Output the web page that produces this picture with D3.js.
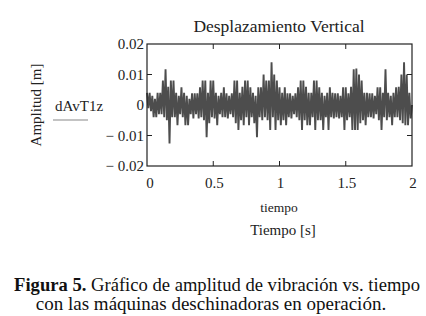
<!DOCTYPE html>
<html lang="es">
<head>
<meta charset="UTF-8" />
<title>Desplazamiento Vertical</title>
<script src="https://d3js.org/d3.v7.min.js"></script>
<style>
  body { margin: 0; background: #fff; }
  svg { display: block; }
  svg text { font-family: "Liberation Serif", "Times New Roman", Times, serif; }
  .tick-label { font-size: 15px; fill: #222; }
</style>
</head>
<body>
<div id="chart"></div>
<script>
// signal, one value every 0.01 s (0 .. 2 s)
const dt = 0.01;
const amplitude = [
  0.004, -0.001, 0.004, -0.002, 0.003, -0.004, 0.002, -0.004, 0.004, -0.003,
  0.004, -0.003, 0.008, -0.004, 0.0117, -0.005, 0.006, -0.0126, 0.008, -0.004,
  0.008, -0.004, 0.004, -0.0066, 0.003, -0.003, 0.0058, -0.004, 0.004, -0.0066,
  0.003, -0.0066, 0.002, -0.003, 0.0038, -0.0044, 0.0038, -0.003, 0.0038, -0.0044,
  0.0058, -0.004, 0.008, -0.005, 0.008, -0.0106, 0.004, -0.006, 0.008, -0.004,
  0.008, -0.0044, 0.004, -0.0066, 0.003, -0.003, 0.004, -0.004, 0.0058, -0.004,
  0.0038, -0.0044, 0.003, -0.003, 0.0038, -0.004, 0.008, -0.006, 0.008, -0.0082,
  0.004, -0.005, 0.006, -0.0066, 0.008, -0.004, 0.008, -0.0066, 0.0058, -0.004,
  0.004, -0.006, 0.003, -0.0106, 0.0058, -0.004, 0.0058, -0.005, 0.01, -0.004,
  0.008, -0.005, 0.008, -0.0082, 0.014, -0.004, 0.01, -0.0082, 0.008, -0.005,
  0.0058, -0.0066, 0.004, -0.005, 0.0058, -0.0066, 0.0038, -0.004, 0.0038, -0.0044,
  0.003, -0.003, 0.0038, -0.004, 0.0058, -0.005, 0.008, -0.0082, 0.008, -0.005,
  0.006, -0.0066, 0.004, -0.0066, 0.004, -0.004, 0.008, -0.0082, 0.008, -0.005,
  0.0058, -0.005, 0.004, -0.0082, 0.003, -0.004, 0.004, -0.0082, 0.0058, -0.004,
  0.004, -0.0044, 0.0038, -0.004, 0.0038, -0.0044, 0.003, -0.004, 0.0058, -0.0082,
  0.0058, -0.005, 0.0038, -0.004, 0.006, -0.0082, 0.0117, -0.0082, 0.012, -0.0082,
  0.01, -0.006, 0.008, -0.005, 0.004, -0.0066, 0.004, -0.004, 0.0038, -0.004,
  0.0038, -0.0044, 0.003, -0.003, 0.0058, -0.005, 0.0058, -0.0082, 0.004, -0.004,
  0.0117, -0.005, 0.004, -0.004, 0.003, -0.0066, 0.004, -0.004, 0.0058, -0.004,
  0.006, -0.005, 0.01, -0.006, 0.014, -0.0066, 0.01, -0.0066, 0.004, -0.0044,
  0
];
const xTicks = [0, 0.5, 1, 1.5, 2];
const yTicks = [0.02, 0.01, 0, -0.01, -0.02];
const seriesName = "dAvT1z";

const W = 426, H = 316;
const plot = { left: 147, right: 412, top: 44, bottom: 166 };

const svg = d3.select("#chart").append("svg")
  .attr("width", W).attr("height", H);

const x = d3.scaleLinear().domain([0, 2]).range([plot.left, plot.right]);
const y = d3.scaleLinear().domain([-0.02, 0.02]).range([plot.bottom, plot.top]);

const fmtY = d => d === 0 ? "0" : (d < 0 ? "\u2212 " + d3.format(".2f")(-d) : d3.format(".2f")(d));

// signal
const line = d3.line()
  .x((d, i) => x(i * dt))
  .y(d => y(d));

svg.append("path")
  .datum(amplitude)
  .attr("fill", "none")
  .attr("stroke", "#4d4d4d")
  .attr("stroke-width", 1.9)
  .attr("d", line);

// frame
svg.append("rect")
  .attr("x", plot.left).attr("y", plot.top)
  .attr("width", plot.right - plot.left)
  .attr("height", plot.bottom - plot.top)
  .attr("fill", "none").attr("stroke", "#222").attr("stroke-width", 1.2);

// inward ticks on all sides
const tl = 5;
const innerX = xTicks.slice(1, -1), innerY = yTicks.slice(1, -1).filter(d => d !== 0);
svg.append("g").selectAll("line.xb").data(innerX).join("line")
  .attr("x1", d => x(d)).attr("x2", d => x(d))
  .attr("y1", plot.bottom).attr("y2", plot.bottom - tl)
  .attr("stroke", "#222");
svg.append("g").selectAll("line.xt").data(innerX).join("line")
  .attr("x1", d => x(d)).attr("x2", d => x(d))
  .attr("y1", plot.top).attr("y2", plot.top + tl)
  .attr("stroke", "#222");
svg.append("g").selectAll("line.yl").data(innerY).join("line")
  .attr("x1", plot.left).attr("x2", plot.left + tl)
  .attr("y1", d => y(d)).attr("y2", d => y(d))
  .attr("stroke", "#222");
svg.append("g").selectAll("line.yr").data(innerY).join("line")
  .attr("x1", plot.right).attr("x2", plot.right - tl)
  .attr("y1", d => y(d)).attr("y2", d => y(d))
  .attr("stroke", "#222");

// tick labels
svg.append("g").selectAll("text").data(xTicks).join("text")
  .attr("class", "tick-label")
  .attr("x", d => x(d) + (d === 0 ? 3 : 1))
  .attr("y", 188)
  .attr("text-anchor", "middle")
  .text(d => d);

svg.append("g").selectAll("text").data(yTicks).join("text")
  .attr("class", "tick-label")
  .attr("x", plot.left - 3)
  .attr("y", d => y(d) + 5)
  .attr("text-anchor", "end")
  .text(fmtY);

// title and axis labels
svg.append("text")
  .attr("x", 279).attr("y", 32)
  .attr("text-anchor", "middle")
  .style("font-size", "17.5px").attr("fill", "#222")
  .text("Desplazamiento Vertical");

svg.append("text")
  .attr("x", 279).attr("y", 212)
  .attr("text-anchor", "middle")
  .style("font-size", "13.5px").attr("fill", "#222")
  .text("tiempo");

svg.append("text")
  .attr("x", 283).attr("y", 235)
  .attr("text-anchor", "middle")
  .style("font-size", "15px").attr("fill", "#222")
  .text("Tiempo [s]");

svg.append("text")
  .attr("transform", "translate(41,105) rotate(-90)")
  .attr("text-anchor", "middle")
  .style("font-size", "15px").attr("fill", "#222")
  .text("Amplitud [m]");

// legend
svg.append("text")
  .attr("x", 55).attr("y", 111)
  .style("font-size", "15px").attr("fill", "#222")
  .text(seriesName);
svg.append("line")
  .attr("x1", 53).attr("x2", 88)
  .attr("y1", 120).attr("y2", 120)
  .attr("stroke", "#888").attr("stroke-width", 1.2);

// caption
const cap = svg.append("g").attr("fill", "#111");
const l1 = cap.append("text").attr("x", 217).attr("y", 291)
  .attr("text-anchor", "middle").style("font-size", "18.6px");
l1.append("tspan").style("font-weight", "bold").text("Figura 5.");
l1.append("tspan").text(" Gráfico de amplitud de vibración vs. tiempo");
cap.append("text").attr("x", 211).attr("y", 310).attr("text-anchor", "middle")
  .style("font-size", "19px")
  .text("con las máquinas deschinadoras en operación.");
</script>
</body>
</html>
